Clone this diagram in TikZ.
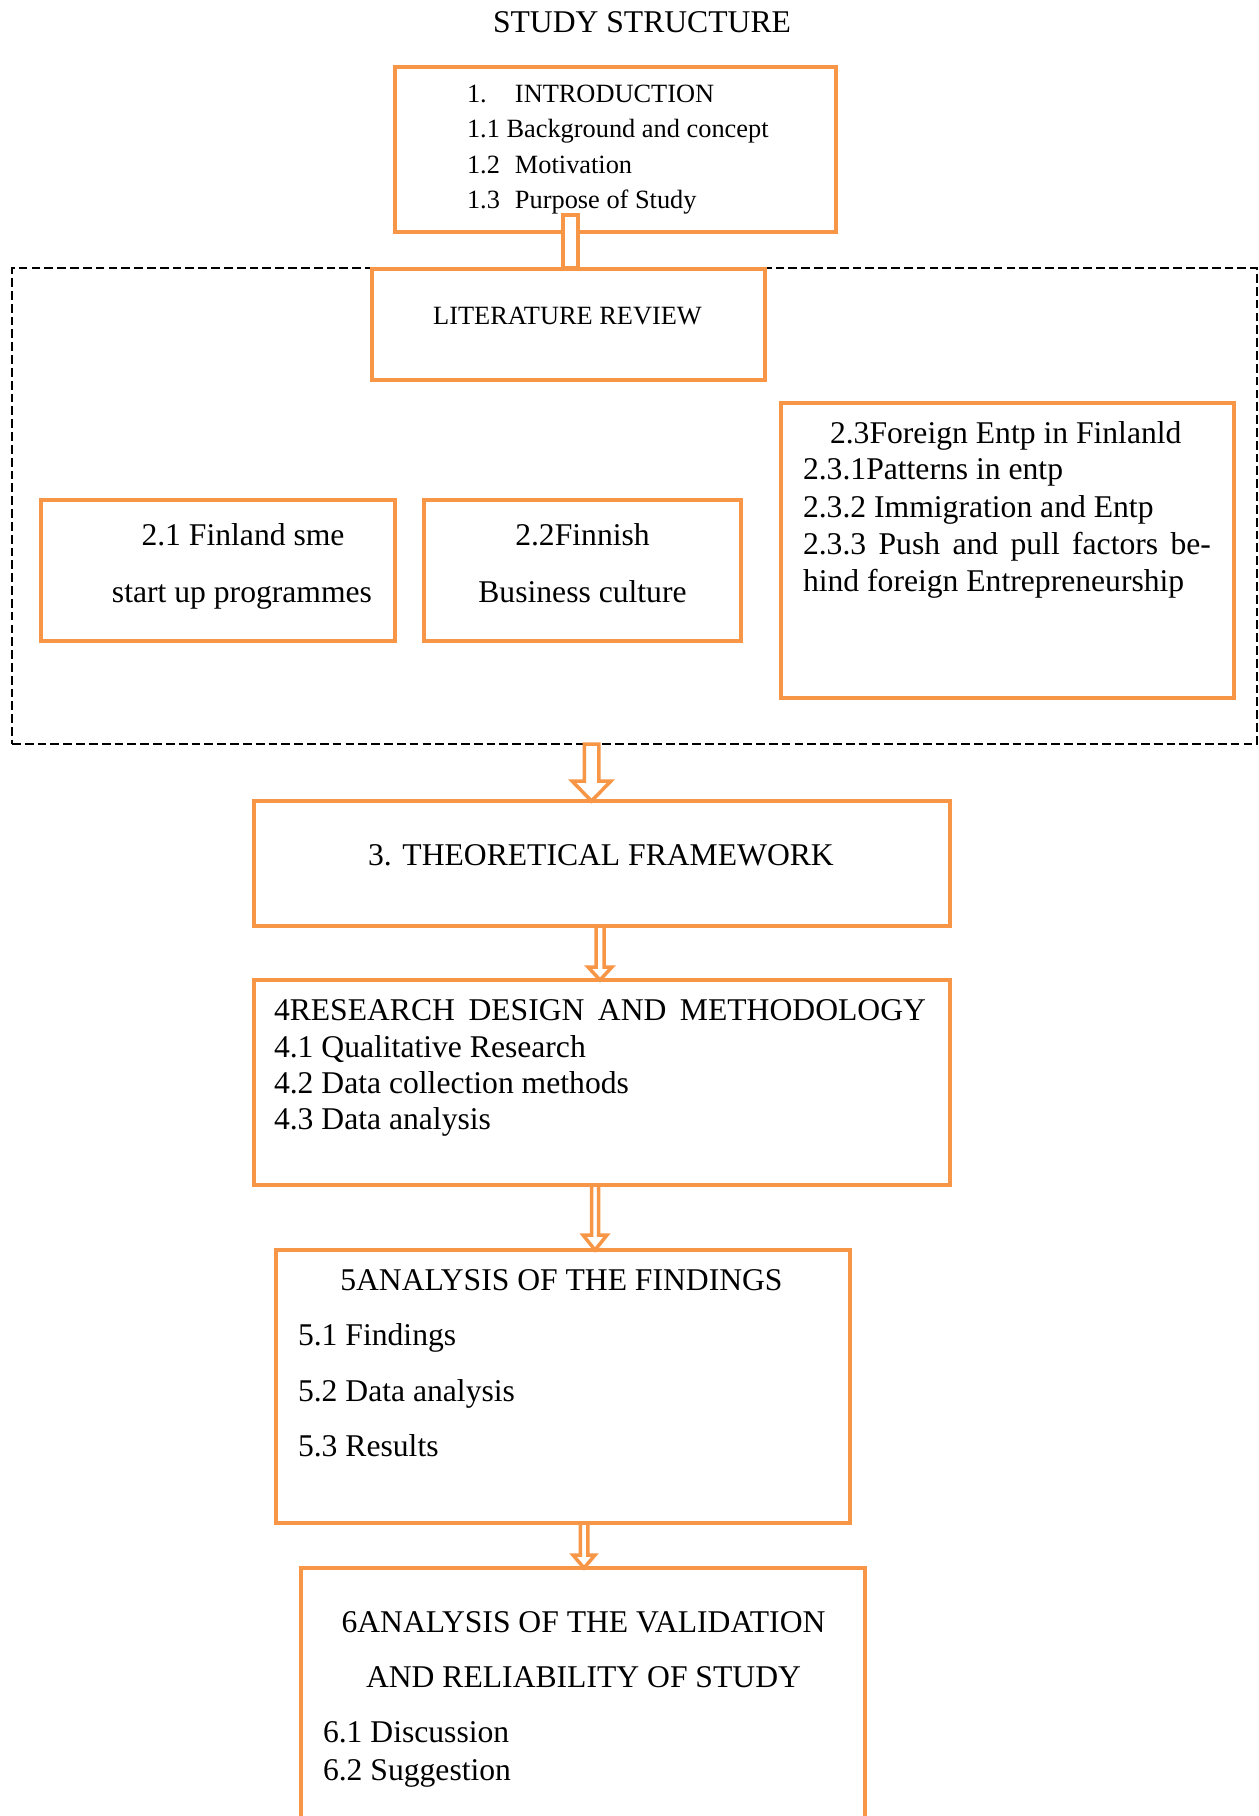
\documentclass[tikz,border=0pt]{standalone}
\usepackage{fontspec}
\setmainfont{Liberation Serif}
\usepackage{tikz}
\usetikzlibrary{
    calc
}

\definecolor{boxorange}{HTML}{F79646}

\tikzset{
    obox/.style={draw=boxorange, line width=0.09cm, fill=white, rectangle,
        inner sep=0pt, outer sep=0pt, anchor=north west},
    bigtxt/.style={font=\fontsize{18}{22}\selectfont, inner sep=0pt, outer sep=0pt},
    smalltxt/.style={font=\fontsize{15}{18}\selectfont, inner sep=0pt, outer sep=0pt},
    arrowline/.style={draw=boxorange, line width=0.07cm, fill=white, line join=miter}
}

% hollow down arrow: start, target anchor, shaft half width, head half width, head length
\newcommand{\hollowdown}[5]{%
    \draw[arrowline] ($(#1)+(-#3,0)$) -- ($(#1 |- #2)+(-#3,#5)$) -- ($(#1 |- #2)+(-#4,#5)$)
        -- (#1 |- #2) -- ($(#1 |- #2)+(#4,#5)$) -- ($(#1 |- #2)+(#3,#5)$)
        -- ($(#1)+(#3,0)$) -- cycle;
}

\begin{document}
\begin{tikzpicture}

\useasboundingbox (0,0) rectangle (25.16,-36.32);
\clip (0,0) rectangle (25.16,-36.32);

% Title
\node[bigtxt, anchor=base] (title) at (12.84,-0.66) {STUDY STRUCTURE};

% Literature review area (dashed)
\node[draw, line width=0.04cm, dash pattern=on 5pt off 2.3pt, inner sep=0pt, outer sep=0pt,
    minimum width=24.9cm, minimum height=9.52cm, anchor=north west] (litarea) at (0.24,-5.36) {};

% Introduction
\node[obox, minimum width=8.82cm, minimum height=3.3cm] (intro) at (7.9,-1.34) {};
\node[smalltxt, anchor=base west] (intro1) at (9.34,-2.06) {\makebox[0.96cm][l]{1.}INTRODUCTION};
\node[smalltxt, anchor=base west] (intro2) at (9.34,-2.76) {1.1 Background and concept};
\node[smalltxt, anchor=base west] (intro3) at (9.34,-3.48) {\makebox[0.96cm][l]{1.2}Motivation};
\node[smalltxt, anchor=base west] (intro4) at (9.34,-4.18) {\makebox[0.96cm][l]{1.3}Purpose of Study};

% Intro to literature review
\coordinate (c0) at (11.41,-4.30);
\draw[arrowline] ($(c0)+(-0.15,0)$) rectangle ($(c0 |- litarea.north)+(0.15,0)$);

% Literature review
\node[obox, minimum width=7.86cm, minimum height=2.22cm] (lit) at (7.44,-5.38) {};
\node[smalltxt, anchor=base] (littxt) at (11.35,-6.50) {LITERATURE REVIEW};

% 2.1 and 2.2
\node[obox, minimum width=7.08cm, minimum height=2.82cm] (sme) at (0.82,-10.0) {};
\node[bigtxt, anchor=base] (sme1) at (4.86,-10.90) {2.1 Finland sme};
\node[bigtxt, anchor=base] (sme2) at (4.84,-12.04) {start up programmes};

\node[obox, minimum width=6.34cm, minimum height=2.82cm] (culture) at (8.48,-10.0) {};
\node[bigtxt, anchor=base] (culture1) at (11.65,-10.90) {2.2Finnish};
\node[bigtxt, anchor=base] (culture2) at (11.65,-12.04) {Business culture};

% 2.3
\node[obox, minimum width=9.06cm, minimum height=5.9cm] (foreign) at (15.62,-8.06) {};
\node[bigtxt, anchor=base west] (foreign1) at (16.60,-8.86) {2.3Foreign Entp in Finlanld};
\node[bigtxt, anchor=base west] (foreign2) at (16.06,-9.58) {2.3.1Patterns in entp};
\node[bigtxt, anchor=base west] (foreign3) at (16.06,-10.34) {2.3.2 Immigration and Entp};
\node[bigtxt, anchor=base west] (foreign4) at (16.06,-11.08) {\makebox[8.16cm][s]{2.3.3 Push and pull factors be-}};
\node[bigtxt, anchor=base west] (foreign5) at (16.06,-11.82) {hind foreign Entrepreneurship};

% Theoretical framework
\node[obox, minimum width=13.92cm, minimum height=2.5cm] (theo) at (5.08,-16.02) {};
\node[bigtxt, anchor=base] (theotxt) at (12.02,-17.30) {3. THEORETICAL FRAMEWORK};

% Research design
\node[obox, minimum width=13.92cm, minimum height=4.1cm] (method) at (5.08,-19.60) {};
\node[bigtxt, anchor=base west] (method1) at (5.48,-20.40) {\makebox[13.04cm][s]{4RESEARCH DESIGN AND METHODOLOGY}};
\node[bigtxt, anchor=base west] (method2) at (5.48,-21.14) {4.1 Qualitative Research};
\node[bigtxt, anchor=base west] (method3) at (5.48,-21.86) {4.2 Data collection methods};
\node[bigtxt, anchor=base west] (method4) at (5.48,-22.58) {4.3 Data analysis};

% Analysis of the findings
\node[obox, minimum width=11.48cm, minimum height=5.46cm] (findings) at (5.52,-25.0) {};
\node[bigtxt, anchor=base] (findings1) at (11.23,-25.80) {5ANALYSIS OF THE FINDINGS};
\node[bigtxt, anchor=base west] (findings2) at (5.96,-26.90) {5.1 Findings};
\node[bigtxt, anchor=base west] (findings3) at (5.96,-28.02) {5.2 Data analysis};
\node[bigtxt, anchor=base west] (findings4) at (5.96,-29.12) {5.3 Results};

% Validation and reliability
\node[obox, minimum width=11.28cm, minimum height=6.64cm] (valid) at (6.02,-31.36) {};
\node[bigtxt, anchor=base] (valid1) at (11.67,-32.64) {6ANALYSIS OF THE VALIDATION};
\node[bigtxt, anchor=base] (valid2) at (11.67,-33.74) {AND RELIABILITY OF STUDY};
\node[bigtxt, anchor=base west] (valid3) at (6.46,-34.84) {6.1 Discussion};
\node[bigtxt, anchor=base west] (valid4) at (6.46,-35.60) {6.2 Suggestion};

% Arrows
\coordinate (a1) at (11.83,-14.88);
\coordinate (a2) at (12.0,-18.52);
\coordinate (a3) at (11.9,-23.70);
\coordinate (a4) at (11.68,-30.46);
\hollowdown{a1}{theo.north}{0.145}{0.39}{0.40}
\hollowdown{a2}{method.north}{0.08}{0.24}{0.26}
\hollowdown{a3}{findings.north}{0.07}{0.24}{0.30}
\hollowdown{a4}{valid.north}{0.075}{0.22}{0.26}

\end{tikzpicture}
\end{document}
